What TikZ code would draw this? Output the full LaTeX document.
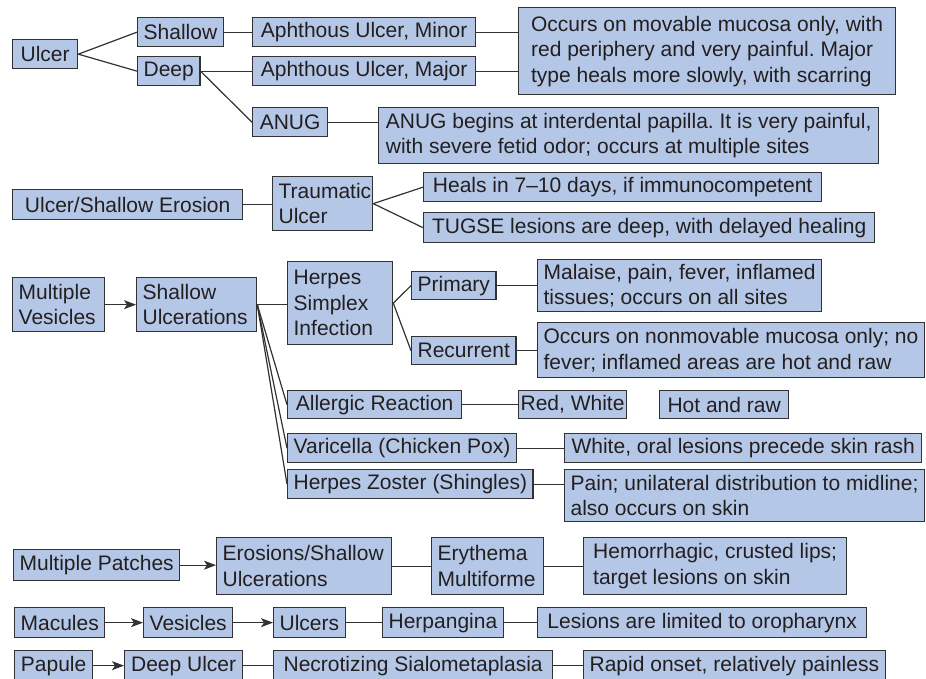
\documentclass[tikz,border=0pt]{standalone}
\usepackage{fontspec}
\setmainfont{Liberation Sans}
\usepackage{xcolor}
\usepackage{tikz}
\usetikzlibrary{arrows.meta}
\frenchspacing

\definecolor{boxfill}{RGB}{181,199,231}
\definecolor{boxline}{RGB}{50,50,52}
\definecolor{ink}{RGB}{35,31,32}

\begin{document}
\begin{tikzpicture}[x=1pt,y=-1pt,
    box/.style={draw=boxline,fill=boxfill,line width=1.3pt,text=ink,
      align=left,anchor=north west,inner xsep=6pt,inner ysep=2pt,
      font=\fontsize{21}{25.5}\selectfont},
    link/.style={draw=boxline,line width=1.2pt},
    arr/.style={link,-{Stealth[length=12pt,width=9pt,inset=3pt]}}]
  \useasboundingbox (0,0) rectangle (926,678);
  \clip (0,0) rectangle (926,678);

  % ulcer, shallow and deep
  \node[box,minimum width=65pt,minimum height=29pt] (ulcer) at (12,39) {Ulcer};
  \node[box,minimum width=84pt,minimum height=29pt] (shallow) at (137,17) {Shallow};
  \node[box,minimum width=62pt,minimum height=29pt] (deep) at (137,56) {Deep};
  \node[box,minimum width=223pt,minimum height=29pt] (minor) at (252,17) {Aphthous Ulcer, Minor};
  \node[box,minimum width=223pt,minimum height=29pt] (major) at (252,56) {Aphthous Ulcer, Major};
  \node[box,minimum width=75pt,minimum height=29pt] (anug) at (252,107) {ANUG};
  \node[box,minimum width=377pt,minimum height=87pt] (aphnote) at (518,7)
    {Occurs on movable mucosa only, with\\red periphery and very painful. Major\\type heals more slowly, with scarring};
  \node[box,minimum width=500pt,minimum height=56pt] (anugnote) at (378,107)
    {ANUG begins at interdental papilla. It is very painful,\\with severe fetid odor; occurs at multiple sites};
  \draw[link] (ulcer.east) -- (shallow.west);
  \draw[link] (ulcer.east) -- (deep.west);
  \draw[link] (shallow) -- (minor);
  \draw[link] (deep) -- (major);
  \draw[link] (deep.east) -- (anug.west);
  \draw[link] (minor.east) -- (minor.east -| aphnote.west);
  \draw[link] (major.east) -- (major.east -| aphnote.west);
  \draw[link] (anug.east) -- (anug.east -| anugnote.west);

  % traumatic ulcer
  \node[box,minimum width=230pt,minimum height=30pt] (erosion) at (12,189) {Ulcer/Shallow Erosion};
  \node[box,text width=88pt,minimum height=54pt] (trauma) at (272,176) {Traumatic\\Ulcer};
  \node[box,minimum width=398pt,minimum height=29pt] (heals) at (423,172) {Heals in 7–10 days, if immunocompetent};
  \node[box,minimum width=451pt,minimum height=30pt] (tugse) at (423,212) {TUGSE lesions are deep, with delayed healing};
  \draw[link] (erosion.east) -- (erosion.east -| trauma.west);
  \draw[link] (trauma.east) -- (heals.west);
  \draw[link] (trauma.east) -- (tugse.west);

  % multiple vesicles
  \node[box,text width=80pt,minimum height=54pt] (vesic) at (12,277) {Multiple\\Vesicles};
  \node[box,text width=108pt,minimum height=54pt] (shulc) at (136,277) {Shallow\\Ulcerations};
  \node[box,text width=93pt,minimum height=83pt] (hsi) at (287,261) {Herpes\\Simplex\\Infection};
  \node[box,minimum width=83pt,minimum height=28pt] (prim) at (411,271) {Primary};
  \node[box,minimum width=102pt,minimum height=28pt] (recur) at (411,336) {Recurrent};
  \node[box,minimum width=281pt,minimum height=52pt] (primnote) at (537,259)
    {Malaise, pain, fever, inflamed\\tissues; occurs on all sites};
  \node[box,minimum width=385pt,minimum height=55pt] (recurnote) at (537,322)
    {Occurs on nonmovable mucosa only; no\\fever; inflamed areas are hot and raw};
  \node[box,minimum width=174pt,minimum height=28pt] (allergy) at (287,390) {Allergic Reaction};
  \node[box,inner xsep=2pt,minimum width=107pt,minimum height=28pt] (redwhite) at (518,390) {Red, White};
  \node[box,minimum width=129pt,minimum height=28pt] (hotraw) at (659,390) {Hot and raw};
  \node[box,minimum width=228pt,minimum height=29pt] (varic) at (287,433) {Varicella (Chicken Pox)};
  \node[box,minimum width=244pt,minimum height=29pt] (zoster) at (287,469) {Herpes Zoster (Shingles)};
  \node[box,minimum width=357pt,minimum height=29pt] (varinote) at (564,433) {White, oral lesions precede skin rash};
  \node[box,minimum width=358pt,minimum height=52pt] (zosnote) at (564,469)
    {Pain; unilateral distribution to midline;\\also occurs on skin};
  \draw[arr] (vesic) -- (shulc);
  \draw[link] (shulc.east) -- (shulc.east -| hsi.west);
  \draw[link] (hsi.east) -- (prim.west);
  \draw[link] (hsi.east) -- (recur.west);
  \draw[link] (prim.east) -- (prim.east -| primnote.west);
  \draw[link] (recur.east) -- (recur.east -| recurnote.west);
  \draw[link] (shulc.east) -- (allergy.west);
  \draw[link] (shulc.east) -- (varic.west);
  \draw[link] (shulc.east) -- (zoster.west);
  \draw[link] (allergy) -- (redwhite);
  \draw[link] (varic) -- (varinote);
  \draw[link] (zoster.east) -- (zoster.east -| zosnote.west);

  % multiple patches
  \node[box,minimum width=165pt,minimum height=31pt] (patches) at (13,549) {Multiple Patches};
  \node[box,text width=163pt,minimum height=57pt] (erosions) at (216,537) {Erosions/Shallow\\Ulcerations};
  \node[box,text width=100pt,minimum height=57pt] (erythema) at (431,537) {Erythema\\Multiforme};
  \node[box,minimum width=263pt,minimum height=57pt] (emnote) at (583,537)
    {Hemorrhagic, crusted lips;\\target lesions on skin};
  \draw[arr] (patches.east) -- (patches.east -| erosions.west);
  \draw[link] (erosions) -- (erythema);
  \draw[link] (erythema) -- (emnote);

  % macules
  \node[box,minimum width=90pt,minimum height=30pt] (macules) at (14,607) {Macules};
  \node[box,minimum width=89pt,minimum height=30pt] (vesicles) at (143,607) {Vesicles};
  \node[box,minimum width=70pt,minimum height=30pt] (ulcers) at (273,607) {Ulcers};
  \node[box,minimum width=120pt,minimum height=30pt] (herpang) at (382,607) {Herpangina};
  \node[box,minimum width=329pt,minimum height=30pt] (herpnote) at (537,607) {Lesions are limited to oropharynx};
  \draw[arr] (macules) -- (vesicles);
  \draw[arr] (vesicles) -- (ulcers);
  \draw[link] (ulcers) -- (herpang);
  \draw[link] (herpang) -- (herpnote);

  % papule
  \node[box,minimum width=78pt,minimum height=30pt] (papule) at (14,650) {Papule};
  \node[box,minimum width=118pt,minimum height=30pt] (deepulc) at (124,650) {Deep Ulcer};
  \node[box,minimum width=279pt,minimum height=30pt] (nsm) at (273,650) {Necrotizing Sialometaplasia};
  \node[box,minimum width=300pt,minimum height=30pt] (nsmnote) at (583,650) {Rapid onset, relatively painless};
  \draw[arr] (papule) -- (deepulc);
  \draw[link] (deepulc) -- (nsm);
  \draw[link] (nsm) -- (nsmnote);
\end{tikzpicture}
\end{document}
